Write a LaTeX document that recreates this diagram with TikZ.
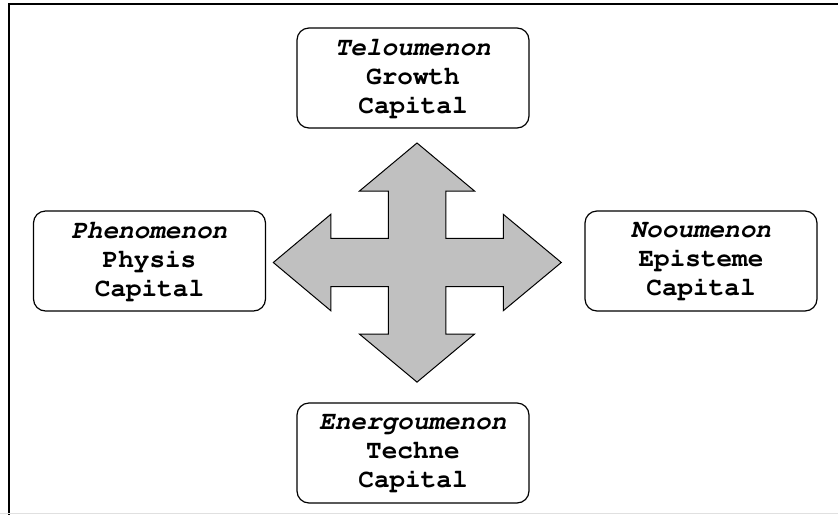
\documentclass[tikz,border=0pt]{standalone}
\usepackage[T1]{fontenc}
\usepackage{courier}
\usetikzlibrary{calc}
\definecolor{arrowgray}{RGB}{192,192,192}

\begin{document}
\begin{tikzpicture}[x=1pt, y=-1pt, every node/.style={rectangle, rounded corners=12pt, draw, line width=1.2pt, fill=white, align=center, minimum width=232pt, minimum height=100pt, inner sep=0pt, font=\ttfamily\bfseries\fontsize{26}{29}\selectfont}]
                \useasboundingbox (0,0) rectangle (838,515);
                \draw[line width=2pt] (8,4) -- (838,4);
                \draw[line width=2.5pt] (9,3) -- (9,515);
                \draw[black!12, line width=1pt] (0,513.5) -- (838,513.5);
                \coordinate (c) at (417,262.5);
                \draw[fill=arrowgray, line width=1pt, line join=miter]
                  ($(c)+(0,-119.5)$) -- ++(57.5,48) -- ++(-28.7,0) -- ++(0,47.3)
                  -- ++(57.5,0) -- ++(0,-24) -- ++(58,48.2) -- ++(-58,48.2) -- ++(0,-24)
                  -- ++(-57.5,0) -- ++(0,47.4) -- ++(28.7,0) -- ++(-57.5,48) -- ++(-57.5,-48)
                  -- ++(28.8,0) -- ++(0,-47.4) -- ++(-57.5,0) -- ++(0,24) -- ++(-57.5,-48.2)
                  -- ++(57.5,-48.2) -- ++(0,24) -- ++(57.5,0) -- ++(0,-47.3) -- ++(-28.8,0) -- cycle;
                \node (tel) at (413,78) {\textit{Teloumenon}\\Growth\\Capital};
                \node (phe) at (149.5,261) {\textit{Phenomenon}\\Physis\\Capital};
                \node (noo) at (701,261) {\textit{Nooumenon}\\Episteme\\Capital};
                \node (ene) at (413,453) {\textit{Energoumenon}\\Techne\\Capital};
                \end{tikzpicture}
\end{document}
